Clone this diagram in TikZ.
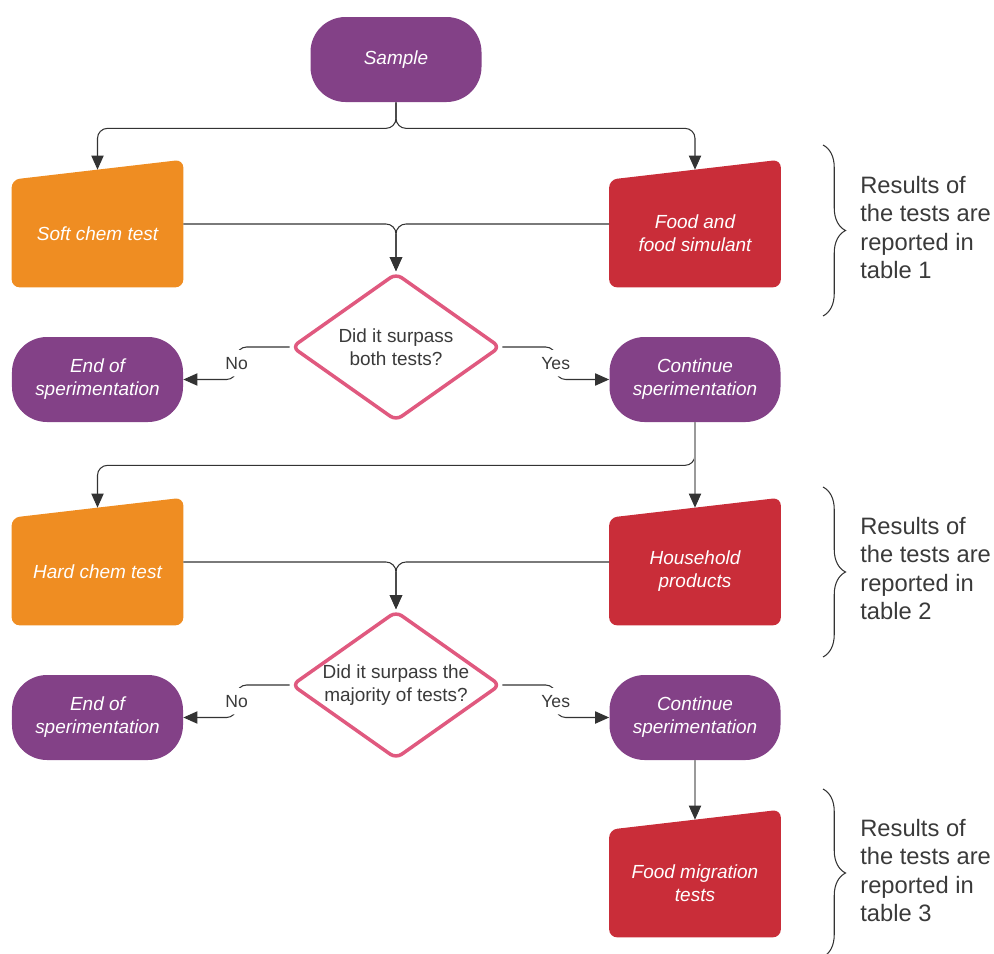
\documentclass[tikz,border=0pt]{standalone}
\usepackage{fontspec}
\setmainfont{Liberation Sans}
\usetikzlibrary{positioning, shapes.geometric, arrows.meta, calc, backgrounds, decorations.pathreplacing}
\definecolor{termpurple}{HTML}{834187}
\definecolor{testorange}{HTML}{EF8D22}
\definecolor{testred}{HTML}{C92D39}
\definecolor{askpink}{HTML}{E0597F}
\definecolor{linegray}{HTML}{333333}
\definecolor{lightline}{HTML}{9A9A9A}
\definecolor{textgray}{HTML}{3A3A3A}

\begin{document}
\begin{tikzpicture}[every node/.style={align=center, inner sep=0pt},
		term/.style={fill=termpurple, rounded corners=0.7cm, minimum width=3.42cm, minimum height=1.7cm, text=white, font=\fontsize{10.8}{13}\selectfont\itshape},
		manual/.style={minimum width=3.42cm, minimum height=2.14cm, text=white, font=\fontsize{10.8}{13}\selectfont\itshape},
		ask/.style={diamond, draw=askpink, line width=2pt, rounded corners=4pt, minimum width=4.18cm, minimum height=2.96cm, aspect=1.4, text=textgray, font=\fontsize{10.8}{13}\selectfont},
		note/.style={anchor=west, align=left, text=textgray, font=\fontsize{13.5}{16.2}\selectfont},
		lbl/.style={fill=white, text=textgray, inner xsep=1pt, inner ysep=4pt, font=\fontsize{10}{12}\selectfont},
		arr/.style={draw=linegray, line width=0.6pt, rounded corners=0.2cm, -{Triangle[length=8pt, width=7pt]}},
		arrlight/.style={arr, draw=lightline, -{Triangle[length=8pt, width=7pt, color=linegray]}},
		brc/.style={draw=linegray, line width=0.6pt, decorate, decoration={brace, amplitude=0.45cm}}]
			\useasboundingbox (0,0) rectangle (19.88,-19.08);
			%Start
			\node[term] (sample) at (7.92,-1.19) {Sample};
			%First tests
			\node[manual] (soft) at (1.95,-4.67) {Soft chem test};
			\node[manual] (food) at (13.9,-4.67) {Food and\\food simulant};
			\node[ask] (ask1) at (7.92,-6.94) {Did it surpass\\both tests?};
			\node[term] (end1) at (1.95,-7.59) {End of\\sperimentation};
			\node[term] (cont1) at (13.9,-7.59) {Continue\\sperimentation};
			%Second tests
			\node[manual] (hard) at (1.95,-11.43) {Hard chem test};
			\node[manual] (house) at (13.9,-11.43) {Household\\products};
			\node[ask] (ask2) at (7.92,-13.7) {Did it surpass the\\majority of tests?};
			\node[term] (end2) at (1.95,-14.35) {End of\\sperimentation};
			\node[term] (cont2) at (13.9,-14.35) {Continue\\sperimentation};
			%Third tests
			\node[manual] (migr) at (13.9,-17.67) {Food migration\\tests};
			%Notes
			\node[note] (res1) at (17.2,-4.55) {Results of\\the tests are\\reported in\\table 1};
			\node[note] (res2) at (17.2,-11.37) {Results of\\the tests are\\reported in\\table 2};
			\node[note] (res3) at (17.2,-17.41) {Results of\\the tests are\\reported in\\table 3};
			%Manual input shapes
			\begin{scope}[on background layer]
				\foreach \n/\c in {soft/testorange, food/testred, hard/testorange, house/testred, migr/testred}
					\fill[\c, rounded corners=0.16cm] (\n.south west) -- (\n.north west) -- ([yshift=0.4cm]\n.north east) -- (\n.south east) -- cycle;
			\end{scope}
			%Connectors
			\draw[arr] (sample.south) -- ++(0,-0.52) -| ([yshift=0.2cm]soft.north);
			\draw[arr] (sample.south) -- ++(0,-0.52) -| ([yshift=0.2cm]food.north);
			\draw[arr] ([yshift=0.19cm]soft.east) -| (ask1.north);
			\draw[arr] ([yshift=0.19cm]food.west) -| (ask1.north);
			\draw[arr] (ask1.west) -| ($(ask1.west)!.5!(end1.east)$) node[lbl] {No} |- (end1.east);
			\draw[arr] (ask1.east) -| ($(ask1.east)!.5!(cont1.west)$) node[lbl] {Yes} |- (cont1.west);
			\draw[arr] (cont1.south) -- ++(0,-0.86) -| ([yshift=0.2cm]hard.north);
			\draw[arrlight] (cont1.south) -- ([yshift=0.2cm]house.north);
			\draw[arr] ([yshift=0.19cm]hard.east) -| (ask2.north);
			\draw[arr] ([yshift=0.19cm]house.west) -| (ask2.north);
			\draw[arr] (ask2.west) -| ($(ask2.west)!.5!(end2.east)$) node[lbl] {No} |- (end2.east);
			\draw[arr] (ask2.east) -| ($(ask2.east)!.5!(cont2.west)$) node[lbl] {Yes} |- (cont2.west);
			\draw[arrlight] (cont2.south) -- ([yshift=0.2cm]migr.north);
			%Braces
			\draw[brc] (16.46,-2.9) -- (16.46,-6.32);
			\draw[brc] (16.46,-9.74) -- (16.46,-13.14);
			\draw[brc] (16.46,-15.78) -- (16.46,-19.14);
		\end{tikzpicture}
\end{document}
